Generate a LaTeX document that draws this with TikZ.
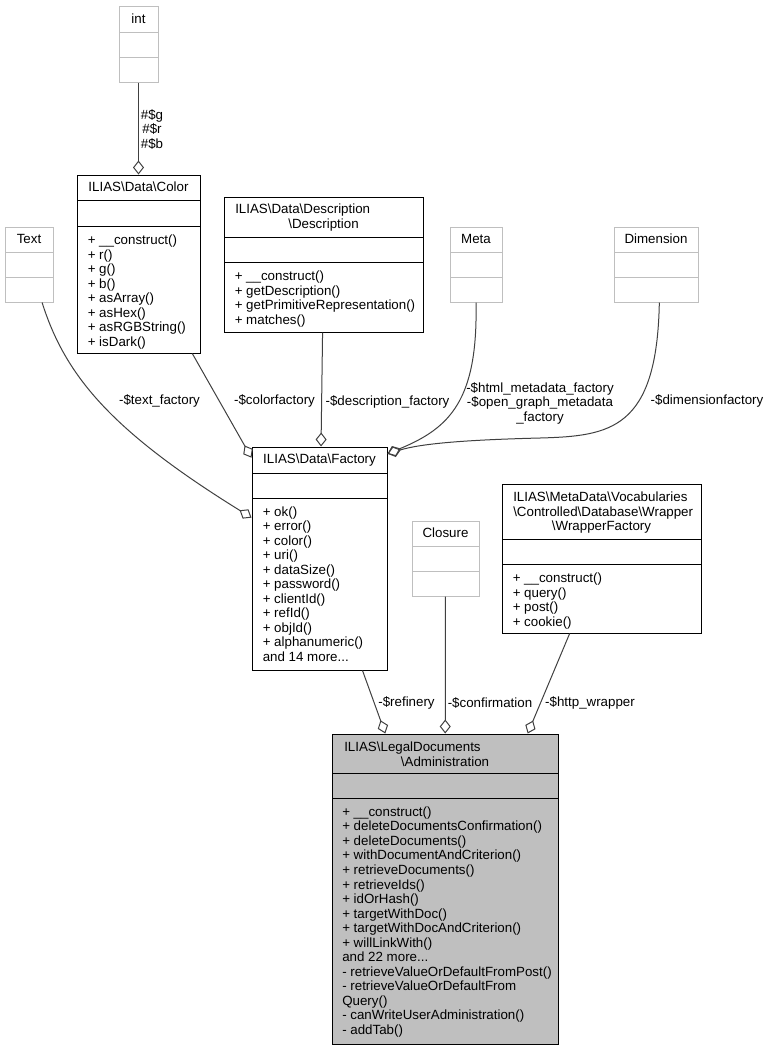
\documentclass[tikz,border=0pt]{standalone}
\usepackage{fontspec}
\setmainfont{Liberation Sans}
\usetikzlibrary{arrows.meta,fit}

\definecolor{edgegray}{HTML}{404040}
\definecolor{boxgray}{HTML}{BFBFBF}
\newcommand{\bsl}{\textbackslash}

\tikzset{
  classbox/.style={draw=black, line width=0.75pt, inner sep=0pt},
  extbox/.style={draw=boxgray, line width=0.75pt, inner sep=0pt},
  title/.style={anchor=mid, inner sep=0pt, yshift=-1.5pt},
  titleleft/.style={anchor=mid west, inner sep=0pt, yshift=-1.5pt},
  % anchored at the last line
  members/.style={anchor=mid west, align=left, inner sep=0pt, yshift=-2.25pt},
  agg/.style={draw=edgegray, line width=0.75pt, -{Diamond[open, length=10.5pt, width=8.25pt]}},
  role/.style={inner sep=0pt, align=center, yshift=-1.5pt},
}

\begin{document}
\begin{tikzpicture}[x=0.75pt, y=-0.75pt, font=\fontsize{10}{10.91}\selectfont]
\useasboundingbox (0,0) rectangle (768,1051);

% External types (grey)
\node[extbox, fit={(119,6.5) (158,82)}] (int) {};
\draw[boxgray, line width=0.75pt] (119,32) -- (158,32) (119,57) -- (158,57);
\node[title] (int-title) at (138.5,18) {int};

\node[extbox, fit={(5,227) (53,302)}] (text) {};
\draw[boxgray, line width=0.75pt] (5,252) -- (53,252) (5,277) -- (53,277);
\node[title] (text-title) at (29,238) {Text};

\node[extbox, fit={(450,227) (502,302)}] (meta) {};
\draw[boxgray, line width=0.75pt] (450,252) -- (502,252) (450,277) -- (502,277);
\node[title] (meta-title) at (476,238) {Meta};

\node[extbox, fit={(614,227) (698,302)}] (dimension) {};
\draw[boxgray, line width=0.75pt] (614,252) -- (698,252) (614,277) -- (698,277);
\node[title] (dimension-title) at (656,238) {Dimension};

\node[extbox, fit={(412,521) (479,596)}] (closure) {};
\draw[boxgray, line width=0.75pt] (412,546) -- (479,546) (412,571) -- (479,571);
\node[title] (closure-title) at (445.5,532) {Closure};

% Classes
\node[classbox, fit={(77,175) (200,353)}] (color) {};
\draw[line width=0.75pt] (77,200) -- (200,200) (77,226) -- (200,226);
\node[title] (color-title) at (138.5,186) {ILIAS\bsl Data\bsl Color};
\node[members] (color-ops) at (87.5,340) {+ \_\_construct()\\+ r()\\+ g()\\+ b()\\+ asArray()\\+ asHex()\\+ asRGBString()\\+ isDark()};

\node[classbox, fit={(224,197) (423,332)}] (desc) {};
\draw[line width=0.75pt] (224,237) -- (423,237) (224,262) -- (423,262);
\node[titleleft] (desc-title) at (235,208) {ILIAS\bsl Data\bsl Description};
\node[title] (desc-title2) at (323.5,223) {\bsl Description};
\node[members] (desc-ops) at (234.5,318) {+ \_\_construct()\\+ getDescription()\\+ getPrimitiveRepresentation()\\+ matches()};

\node[classbox, fit={(252,447) (387,670)}] (factory) {};
\draw[line width=0.75pt] (252,473) -- (387,473) (252,498) -- (387,498);
\node[title] (factory-title) at (319.5,458) {ILIAS\bsl Data\bsl Factory};
\node[members] (factory-ops) at (262.5,655) {+ ok()\\+ error()\\+ color()\\+ uri()\\+ dataSize()\\+ password()\\+ clientId()\\+ refId()\\+ objId()\\+ alphanumeric()\\and 14 more...};

\node[classbox, fit={(502,484) (701,633)}] (wrapper) {};
\draw[line width=0.75pt] (502,539) -- (701,539) (502,564) -- (701,564);
\node[titleleft] (wrapper-title) at (513,496) {ILIAS\bsl MetaData\bsl Vocabularies};
\node[titleleft] (wrapper-title2) at (513,511) {\bsl Controlled\bsl Database\bsl Wrapper};
\node[title] (wrapper-title3) at (601.5,525) {\bsl WrapperFactory};
\node[members] (wrapper-ops) at (512.5,620) {+ \_\_construct()\\+ query()\\+ post()\\+ cookie()};

\node[classbox, fill=boxgray, fit={(332,734) (558,1044)}] (admin) {};
\draw[line width=0.75pt] (332,773) -- (558,773) (332,798) -- (558,798);
\node[titleleft] (admin-title) at (344,746) {ILIAS\bsl LegalDocuments};
\node[title] (admin-title2) at (445,761) {\bsl Administration};
\node[members] (admin-ops) at (342,1028) {+ \_\_construct()\\+ deleteDocumentsConfirmation()\\+ deleteDocuments()\\+ withDocumentAndCriterion()\\+ retrieveDocuments()\\+ retrieveIds()\\+ idOrHash()\\+ targetWithDoc()\\+ targetWithDocAndCriterion()\\+ willLinkWith()\\and 22 more...\\- retrieveValueOrDefaultFromPost()\\- retrieveValueOrDefaultFrom\\Query()\\- canWriteUserAdministration()\\- addTab()};

% Aggregations
\draw[agg] (int) -- (color);
\draw[agg] (text.-71) .. controls (65,375) and (110,430) .. (factory.149);
\draw[agg] (color.-59.5) -- (factory.124);
\draw[agg] (desc) -- (factory);
\draw[agg] (meta.south) .. controls (478,400) and (450,428) .. (factory.57.6);
\draw[agg] (dimension.-85) .. controls (657,430) and (610,436) .. (540,438)
  .. controls (460,440) and (420,444) .. (factory.57.6);
\draw[agg] (factory.-69) -- (admin.111);
\draw[agg] (closure) -- (admin);
\draw[agg] (wrapper.-113) -- (admin.62);

% Role labels
\node[role] (rgb-label) at (152,127.5) {\#\$g\\\#\$r\\\#\$b};
\node[role] (text-label) at (159.5,399) {-\$text\_factory};
\node[role] (color-label) at (274.5,399) {-\$colorfactory};
\node[role] (desc-label) at (387.5,400) {-\$description\_factory};
\node[role] (meta-label) at (540,401) {-\$html\_metadata\_factory\\-\$open\_graph\_metadata\\\_factory};
\node[role] (dimension-label) at (707,399) {-\$dimensionfactory};
\node[role] (refinery-label) at (406.5,701) {-\$refinery};
\node[role] (closure-label) at (490,701) {-\$confirmation};
\node[role] (wrapper-label) at (590,701) {-\$http\_wrapper};
\end{tikzpicture}
\end{document}
